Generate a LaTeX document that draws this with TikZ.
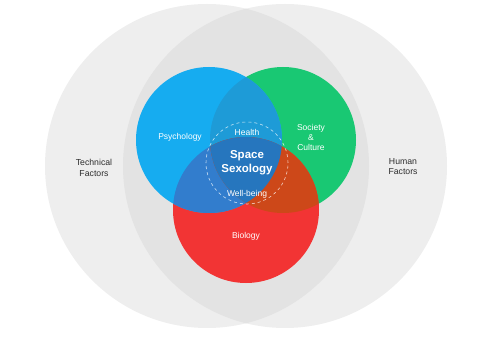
\documentclass[tikz,border=0pt]{standalone}
\usepackage{fontspec}
\setmainfont{Liberation Sans}
\usetikzlibrary{positioning}
\definecolor{outergray}{RGB}{238,238,238}
\definecolor{lensgray}{RGB}{227,227,227}
\definecolor{psyblue}{RGB}{22,172,240}
\definecolor{socgreen}{RGB}{25,200,115}
\definecolor{biored}{RGB}{242,52,52}
\definecolor{psysoc}{RGB}{30,155,215}
\definecolor{psybio}{RGB}{50,125,205}
\definecolor{socbio}{RGB}{205,72,25}
\definecolor{coreblue}{RGB}{38,118,190}
\definecolor{darktext}{RGB}{45,45,45}

\begin{document}
\begin{tikzpicture}[x=1pt, y=1pt,
  lbl/.style={text=white, align=center, font=\fontsize{8.5}{10}\selectfont},
  side/.style={text=darktext, align=center, font=\fontsize{8.7}{10.5}\selectfont}]
  \useasboundingbox (0,0) rectangle (500,340);
  \coordinate (tech) at (207,174);
  \coordinate (hum) at (285,174);
  \coordinate (psy) at (209,200);
  \coordinate (soc) at (283,200);
  \coordinate (bio) at (246,130);
  \coordinate (mid) at (247,177);
  % outer factors
  \fill[outergray] (tech) circle (162pt);
  \fill[outergray] (hum) circle (162pt);
  \begin{scope}
    \clip (tech) circle (162pt);
    \fill[lensgray] (hum) circle (162pt);
  \end{scope}
  % three fields
  \fill[socgreen] (soc) circle (73pt);
  \fill[biored] (bio) circle (73pt);
  \fill[psyblue] (psy) circle (73pt);
  \begin{scope}
    \clip (psy) circle (73pt);
    \fill[psysoc] (soc) circle (73pt);
    \fill[psybio] (bio) circle (73pt);
  \end{scope}
  \begin{scope}
    \clip (soc) circle (73pt);
    \fill[socbio] (bio) circle (73pt);
  \end{scope}
  \begin{scope}
    \clip (psy) circle (73pt);
    \clip (soc) circle (73pt);
    \fill[coreblue] (bio) circle (73pt);
  \end{scope}
  \draw[white, opacity=0.75, dashed, line width=0.6pt] (mid) circle (41pt);
  % labels
  \node[side] (techlbl) at (94,172) {Technical\\Factors};
  \node[side] (humlbl) at (403,173.5) {Human\\Factors};
  \node[lbl] (psylbl) at (180,203) {Psychology};
  \node[lbl] (soclbl) at (311,203) {Society\\\&\\Culture};
  \node[lbl] (biolbl) at (246,104) {Biology};
  \node[lbl, font=\bfseries\fontsize{11.5}{14.5}\selectfont] (core) at (247,177.5) {Space\\Sexology};
  \node[lbl, above=7pt of core] (health) {Health};
  \node[lbl, below=8pt of core] (wellbeing) {Well-being};
\end{tikzpicture}
\end{document}
